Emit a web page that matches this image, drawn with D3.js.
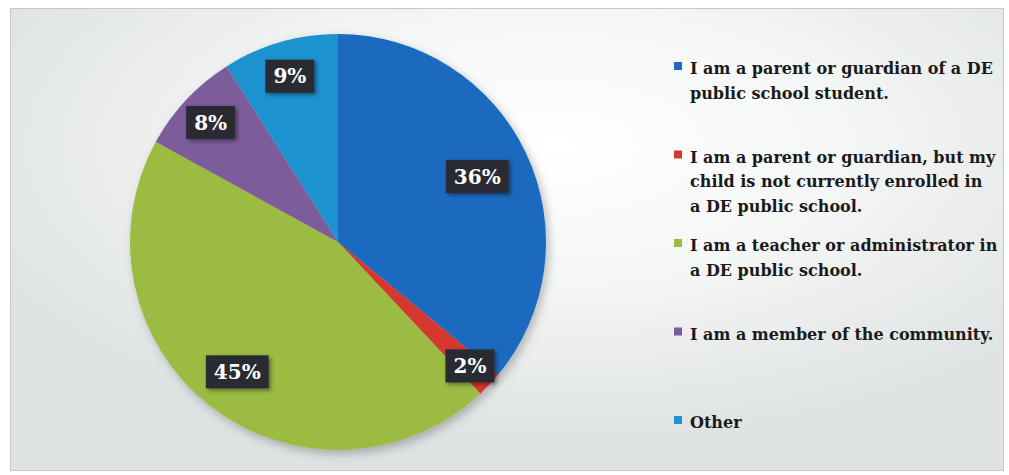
<!DOCTYPE html>
<html>
<head>
<meta charset="utf-8">
<script src="https://cdn.jsdelivr.net/npm/d3@7"></script>
<style>
  html, body { margin: 0; padding: 0; background: #ffffff; }
  svg { display: block; }
</style>
</head>
<body>
<svg id="chart" width="1009" height="475"></svg>
<script>
// Survey respondents by relationship to DE public schools
const categories = [
  "I am a parent or guardian of a DE public school student.",
  "I am a parent or guardian, but my child is not currently enrolled in a DE public school.",
  "I am a teacher or administrator in a DE public school.",
  "I am a member of the community.",
  "Other"
];
const legendLines = [
  ["I am a parent or guardian of a DE", "public school student."],
  ["I am a parent or guardian, but my", "child is not currently enrolled in", "a DE public school."],
  ["I am a teacher or administrator in", "a DE public school."],
  ["I am a member of the community."],
  ["Other"]
];
const shares = [36, 2, 45, 8, 9];
const sliceColors = ["#1c6bc0", "#d4372f", "#9cbb43", "#7c5b9a", "#1f92cf"];

const svg = d3.select("#chart");
const defs = svg.append("defs");

// panel background: soft light-grey wash, brightest near the upper middle
const bg = defs.append("radialGradient").attr("id", "panelBg")
  .attr("cx", "55%").attr("cy", "30%").attr("r", "65%");
bg.append("stop").attr("offset", "0%").attr("stop-color", "#ffffff");
bg.append("stop").attr("offset", "45%").attr("stop-color", "#f5f6f6");
bg.append("stop").attr("offset", "100%").attr("stop-color", "#dee2e2");

const pieShadow = defs.append("filter").attr("id", "pieShadow")
  .attr("x", "-20%").attr("y", "-20%").attr("width", "140%").attr("height", "140%");
pieShadow.append("feDropShadow").attr("dx", 3).attr("dy", 4)
  .attr("stdDeviation", 5).attr("flood-color", "#000").attr("flood-opacity", 0.25);

const boxShadow = defs.append("filter").attr("id", "boxShadow")
  .attr("x", "-30%").attr("y", "-30%").attr("width", "160%").attr("height", "160%");
boxShadow.append("feDropShadow").attr("dx", 2).attr("dy", 2)
  .attr("stdDeviation", 2).attr("flood-color", "#000").attr("flood-opacity", 0.45);

// chart panel
svg.append("rect")
  .attr("x", 10.5).attr("y", 8.5).attr("width", 993).attr("height", 462)
  .attr("fill", "url(#panelBg)")
  .attr("stroke", "#c4c8c8").attr("stroke-width", 1);

// pie
const cx = 338, cy = 242, R = 208;
const color = d3.scaleOrdinal().domain(categories).range(sliceColors);
const pie = d3.pie().sort(null).value(d => d.value);
const data = categories.map((c, i) => ({ cat: c, value: shares[i] }));
const arcs = pie(data);
const arc = d3.arc().innerRadius(0).outerRadius(R);
// distance of each data label from the centre, as a fraction of the radius
const labelRadius = [0.74, 0.87, 0.79, 0.84, 0.83];

const g = svg.append("g").attr("transform", `translate(${cx},${cy})`);
g.append("g").attr("filter", "url(#pieShadow)")
  .selectAll("path").data(arcs).join("path")
  .attr("d", arc)
  .attr("fill", d => color(d.data.cat));

// percentage labels in dark boxes
const fmt = d3.format(".0%");
const total = d3.sum(shares);
const labels = g.append("g").selectAll("g").data(arcs).join("g")
  .attr("transform", (d, i) => {
    const r = R * labelRadius[i];
    return `translate(${d3.arc().innerRadius(r).outerRadius(r).centroid(d)})`;
  });
labels.each(function(d) {
  const sel = d3.select(this);
  const t = sel.append("text")
    .attr("text-anchor", "middle")
    .attr("dy", "0.36em")
    .attr("font-family", "'DejaVu Serif', serif")
    .attr("font-weight", "bold")
    .attr("font-size", 20)
    .attr("fill", "#ffffff")
    .text(fmt(d.data.value / total));
  const w = t.node().getComputedTextLength();
  const bw = w + 16, bh = 33;
  sel.insert("rect", "text")
    .attr("x", -bw / 2).attr("y", -bh / 2)
    .attr("width", bw).attr("height", bh)
    .attr("fill", "#2a2a33")
    .attr("filter", "url(#boxShadow)");
});

// legend
const legendX = 690, firstBaseline = 74, itemStep = 88.5, lineStep = 24.5;
const legend = svg.append("g");
const items = legend.selectAll("g").data(categories).join("g")
  .attr("transform", (d, i) => `translate(${legendX},${firstBaseline + i * itemStep})`);
items.append("rect")
  .attr("x", -16).attr("y", -12).attr("width", 8).attr("height", 8)
  .attr("fill", d => color(d));
items.append("text")
  .attr("font-family", "'DejaVu Serif', serif")
  .attr("font-weight", "bold")
  .attr("font-size", 16)
  .attr("fill", "#1a1a1a")
  .selectAll("tspan").data((d, i) => legendLines[i]).join("tspan")
  .attr("x", 0).attr("y", (d, j) => j * lineStep)
  .text(d => d);
</script>
</body>
</html>
